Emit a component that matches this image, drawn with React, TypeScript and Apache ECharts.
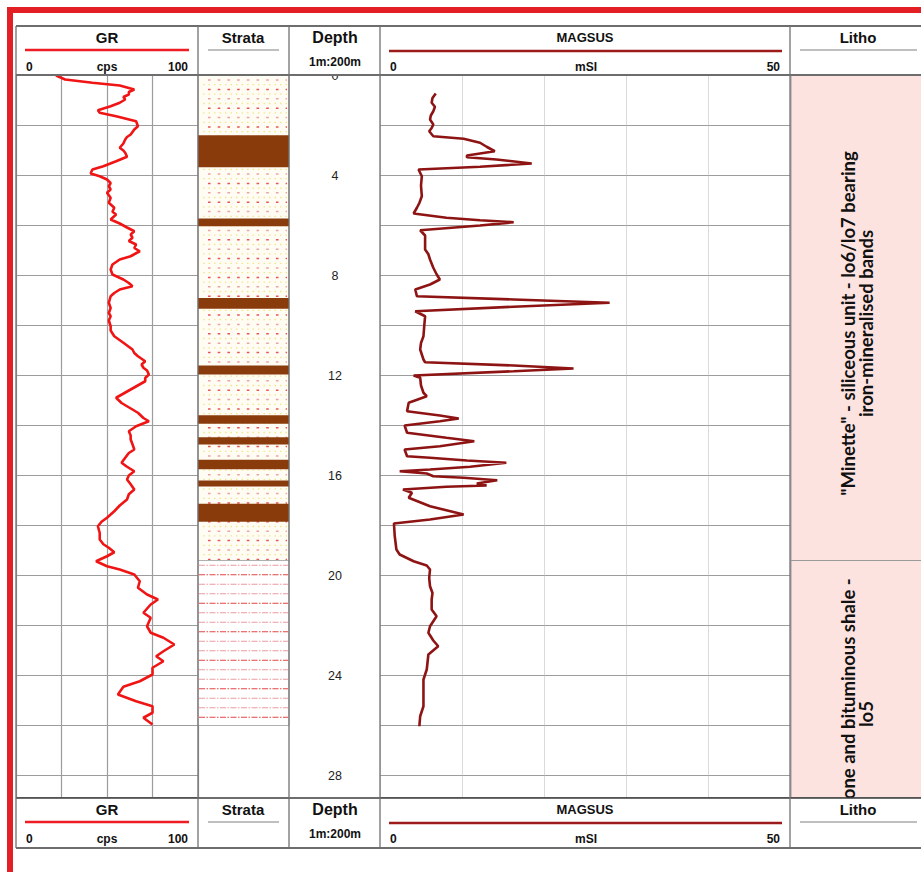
import React, { useEffect, useRef } from "react";
import * as echarts from "echarts";

// ---------- DATA ----------
const depthMax = 28.88;

// Gamma ray (cps) by depth (m)
const grDepth = [
  0.0, 0.16, 0.29, 0.4, 0.56, 0.66, 0.76, 0.86, 0.96, 1.09, 1.23, 1.39, 1.49, 1.63, 1.83, 2.03, 2.16, 2.36, 2.46, 2.56,
  2.72, 2.89, 3.0, 3.09, 3.25, 3.43, 3.63, 3.76, 3.92, 4.03, 4.16, 4.3, 4.43, 4.56, 4.69, 4.89, 5.09, 5.29, 5.45, 5.56,
  5.76, 5.92, 6.08, 6.23, 6.36, 6.49, 6.62, 6.76, 6.9, 7.03, 7.23, 7.36, 7.56, 7.76, 7.96, 8.16, 8.3, 8.43, 8.56, 8.7,
  8.83, 9.09, 9.3, 9.5, 9.63, 9.8, 10.03, 10.2, 10.43, 10.69, 10.96, 11.1, 11.23, 11.43, 11.56, 11.69, 11.8, 11.96, 12.1,
  12.23, 12.56, 12.89, 13.1, 13.23, 13.49, 13.7, 13.83, 14.03, 14.23, 14.4, 14.56, 14.75, 14.96, 15.1, 15.29, 15.49,
  15.65, 15.83, 16.0, 16.16, 16.35, 16.56, 16.75, 16.96, 17.2, 17.43, 17.69, 17.85, 18.03, 18.3, 18.56, 18.75, 18.89,
  19.07, 19.23, 19.43, 19.63, 19.76, 19.96, 20.23, 20.49, 20.76, 20.96, 21.16, 21.49, 21.69, 22.03, 22.29, 22.49, 22.76,
  23.03, 23.23, 23.43, 23.69, 23.96, 24.23, 24.45, 24.76, 25.03, 25.23, 25.49, 25.69, 25.96,
];
const grValue = [
  22, 27, 42, 57, 65, 62, 62, 59, 60, 57, 52, 45, 46, 55, 66, 67, 65, 63, 61, 60,
  59, 57, 59, 60, 61, 55, 48, 42, 41, 46, 50, 52, 51, 52, 50, 52, 51, 54, 53, 55,
  52, 57, 61, 65, 63, 64, 62, 66, 65, 68, 63, 57, 53, 52, 53, 59, 62, 64, 57, 54,
  52, 51, 52, 51, 52, 51, 52, 52, 54, 59, 64, 65, 67, 71, 69, 70, 72, 73, 71,
  71, 63, 55, 58, 61, 67, 70, 73, 66, 62, 63, 63, 64, 65, 62, 60, 58,
  61, 65, 62, 61, 63, 65, 62, 61, 57, 54, 50, 47, 45, 46, 46, 48, 51,
  54, 50, 44, 50, 57, 65, 68, 67, 72, 78, 74, 70, 74, 72, 74, 81, 87,
  81, 77, 81, 75, 75, 68, 59, 56, 66, 75, 75, 70, 75,
];

// Magnetic susceptibility (mSI) by depth (m)
const magDepth = [
  0.72, 0.9, 1.09, 1.25, 1.43, 1.6, 1.76, 1.96, 2.1, 2.23, 2.43, 2.53, 2.69, 2.85, 3.03, 3.2, 3.27, 3.36, 3.52, 3.65,
  3.76, 4.03, 4.4, 4.83, 5.1, 5.29, 5.52, 5.69, 5.79, 5.87, 6.0, 6.19, 6.4, 6.56, 6.96, 7.15, 7.36, 7.69, 7.95, 8.16,
  8.36, 8.56, 8.83, 8.96, 9.09, 9.25, 9.43, 9.63, 10.0, 10.43, 10.7, 10.96, 11.36, 11.47, 11.6, 11.72, 11.83, 12.0,
  12.09, 12.4, 12.69, 12.83, 13.09, 13.43, 13.6, 13.72, 13.83, 14.0, 14.29, 14.49, 14.63, 14.83, 14.96, 15.23, 15.29,
  15.4, 15.49, 15.65, 15.76, 15.83, 15.92, 16.03, 16.09, 16.19, 16.32, 16.4, 16.45, 16.56, 16.69, 16.89, 17.23, 17.56,
  17.76, 17.92, 18.43, 18.96, 19.16, 19.43, 19.6, 19.76, 20.1, 20.43, 20.7, 20.96, 21.36, 21.63, 22.03, 22.29, 22.6,
  22.83, 23.16, 23.76, 24.16, 24.69, 25.23, 25.63, 26.03,
];
const magValue = [
  6.8, 6.4, 6.3, 6.7, 6.5, 6.2, 6.1, 6.5, 6.3, 6.0, 6.5, 10.2, 12.2, 13.0, 14.0, 10.6, 10.6, 14.2, 18.5, 12.2,
  4.7, 5.1, 5.0, 5.1, 4.8, 4.5, 4.1, 8.1, 12.2, 16.3, 12.2, 4.9, 5.5, 5.5, 5.5, 5.9, 6.1, 6.5, 6.9, 7.3,
  6.1, 4.3, 4.5, 16.3, 28.0, 16.3, 4.3, 5.5, 5.4, 5.3, 5.0, 4.9, 5.3, 5.5, 16.3, 23.6, 16.3, 4.1,
  4.9, 5.0, 5.3, 5.7, 3.5, 3.3, 7.3, 9.6, 7.3, 3.0, 3.3, 8.1, 11.5, 7.3, 3.0, 3.3, 6.1,
  10.6, 15.4, 11.0, 6.1, 2.4, 5.7, 6.5, 10.2, 14.3, 11.8, 13.0, 8.1, 2.8, 3.9, 3.5, 6.1, 10.2,
  6.1, 1.7, 1.8, 2.0, 2.4, 4.1, 5.7, 6.1, 6.0, 6.1, 6.4, 6.3, 6.3, 6.9, 6.1, 5.9, 6.5,
  7.1, 5.9, 5.7, 5.3, 5.3, 5.3, 4.9, 4.8,
];

// Strata units (top, bottom, kind)
const strataTop = [0, 19.4];
const strataBottom = [19.4, 26.0];
const strataKind = ["sand", "shale"];

// Iron-mineralised bands (top, bottom)
const bandTop = [2.39, 5.72, 8.9, 11.6, 13.59, 14.47, 15.37, 16.2, 17.13];
const bandBottom = [3.67, 6.03, 9.33, 11.96, 13.93, 14.76, 15.75, 16.44, 17.85];

// Lithology units
const lithoTop = [0, 19.4];
const lithoBottom = [19.4, depthMax];
const lithoLabelDepth = [9.92, 25.54];
const lithoText = [
  '"Minette" - siliceous unit - lo6/lo7 bearing\niron-mineralised bands',
  "Claystone and bituminous shale -\nlo5",
];

// ---------- STYLE ----------
const FONT = '"Liberation Sans", Arial, Helvetica, sans-serif';
const GRID_TOP = 75.5;
const GRID_H = 722;
const GRID_COLOR = "#9c9c9c";

function headerBand(top: number) {
  const t = (x: number, y: number, text: string, size: number, align = "center") => ({
    type: "text",
    x,
    y: top + y,
    z: 102,
    silent: true,
    style: { text, fontSize: size, fontWeight: "bold", fontFamily: FONT, fill: "#111", align, verticalAlign: "middle" },
  });
  const l = (x1: number, y: number, x2: number, stroke: string, w: number) => ({
    type: "line",
    z: 102,
    silent: true,
    shape: { x1, y1: top + y, x2, y2: top + y },
    style: { stroke, lineWidth: w },
  });
  return [
    { type: "rect", z: 100, silent: true, shape: { x: 16, y: top, width: 920, height: 50 }, style: { fill: "#fff" } },
    t(107, 11, "GR", 15),
    l(25, 24, 189, "#ee1c25", 2.3),
    t(26, 41, "0", 12, "left"),
    t(107, 41, "cps", 12),
    t(188, 41, "100", 12, "right"),
    t(243, 11, "Strata", 15),
    l(208, 24, 279, "#aaaaaa", 1.5),
    t(335, 11, "Depth", 16),
    t(335, 36, "1m:200m", 12),
    t(585, 11, "MAGSUS", 13),
    l(389, 25, 782, "#9e1b1b", 2.5),
    t(390, 41, "0", 12, "left"),
    t(586, 41, "mSI", 12),
    t(780, 41, "50", 12, "right"),
    t(858, 11, "Litho", 15),
    l(800, 24, 917, "#aaaaaa", 1.5),
  ];
}

function frameLines() {
  const els: any[] = [];
  // blank page area below the footer
  els.push({ type: "rect", z: 99, silent: true, shape: { x: 14, y: 846, width: 920, height: 40 }, style: { fill: "#fff" } });
  [26, 75, 798, 848].forEach((y) =>
    els.push({ type: "line", z: 103, silent: true, shape: { x1: 16, y1: y, x2: 921, y2: y }, style: { stroke: "#3c3c3c", lineWidth: 1.5 } })
  );
  [16, 198, 289, 380, 790].forEach((x) =>
    els.push({ type: "line", z: 103, silent: true, shape: { x1: x, y1: 26, x2: x, y2: 848 }, style: { stroke: "#707070", lineWidth: 1.3 } })
  );
  els.push({
    type: "rect",
    z: 110,
    silent: true,
    shape: { x: 10, y: 10, width: 1000, height: 1000 },
    style: { fill: "none", stroke: "#e31e25", lineWidth: 6 },
  });
  return els;
}

function renderStrata(params: any, api: any) {
  const i = params.dataIndex;
  const a = api.coord([0, strataTop[i]]);
  const b = api.coord([1, strataBottom[i]]);
  const x = a[0], y = a[1], w = b[0] - a[0], h = b[1] - a[1];
  const kind = strataKind[i];
  const children: any[] = [
    { type: "rect", shape: { x, y, width: w, height: h }, style: { fill: kind === "sand" ? "#fffdf3" : "#ffffff", stroke: "#b0b0b0", lineWidth: 1 } },
  ];
  if (kind === "sand") {
    let k = 0;
    for (let yy = y + 4.5; yy < y + h - 1; yy += 9.4, k++) {
      children.push({
        type: "line",
        shape: { x1: x + 10, y1: yy, x2: x + w - 2, y2: yy },
        style: { stroke: k % 2 ? "#e65555" : "#eba2a2", lineWidth: 1.5, lineDash: [2.6, 7.1] },
      });
      children.push({
        type: "line",
        shape: { x1: x + 5, y1: yy + 4.7, x2: x + w - 2, y2: yy + 4.7 },
        style: { stroke: "#f3e48e", lineWidth: 1.3, lineDash: [1.5, 4] },
      });
    }
  } else {
    let k = 0;
    for (let yy = y + 4.8; yy < y + h - 1; yy += 9.5, k++) {
      children.push({
        type: "line",
        shape: { x1: x + 1, y1: yy, x2: x + w - 1, y2: yy },
        style: { stroke: k % 3 === 1 ? "#e84545" : "#ec9aa0", lineWidth: 1.1, lineDash: [6, 1.5, 1.5, 1.5] },
      });
    }
  }
  return { type: "group", children };
}

function renderBand(params: any, api: any) {
  const i = params.dataIndex;
  const a = api.coord([0, bandTop[i]]);
  const b = api.coord([1, bandBottom[i]]);
  return {
    type: "rect",
    shape: { x: a[0], y: a[1], width: b[0] - a[0], height: b[1] - a[1] },
    style: { fill: "#8a3b0b" },
  };
}

function renderLitho(params: any, api: any) {
  const i = params.dataIndex;
  const a = api.coord([0, lithoTop[i]]);
  const b = api.coord([1, lithoBottom[i]]);
  const c = api.coord([0.5, lithoLabelDepth[i]]);
  return {
    type: "group",
    children: [
      { type: "rect", shape: { x: a[0] + 1, y: a[1], width: b[0] - a[0], height: b[1] - a[1] }, style: { fill: "#fde3e0", stroke: "#9a9a9a", lineWidth: 1 } },
      {
        type: "text",
        x: c[0] + 1,
        y: c[1],
        rotation: Math.PI / 2,
        style: {
          text: lithoText[i],
          fontFamily: "Lato, 'Open Sans', sans-serif",
          fontWeight: "bold",
          fontSize: 18.5,
          lineHeight: 18,
          fill: "#111",
          align: "center",
          verticalAlign: "middle",
        },
      },
    ],
  };
}

export default function App() {
  const ref = useRef<HTMLDivElement>(null);
  useEffect(() => {
    if (!ref.current) return;
    const chart = echarts.init(ref.current, null, { renderer: "svg" });
    const hidden = { axisLine: { show: false }, axisTick: { show: false }, axisLabel: { show: false }, splitLine: { show: false } };
    const gridDef = (left: number, width: number) => ({ left, width, top: GRID_TOP, height: GRID_H, containLabel: false, show: false });
    const yBase = (gi: number) => ({ type: "value", gridIndex: gi, inverse: true, min: 0, max: depthMax });
    const option: any = {
      animation: false,
      backgroundColor: "#ffffff",
      grid: [gridDef(16, 182), gridDef(198, 91), gridDef(289, 91), gridDef(380, 410), gridDef(790, 136)],
      xAxis: [
        {
          type: "value", gridIndex: 0, min: 0, max: 100, interval: 25,
          axisLine: { show: false }, axisTick: { show: false }, axisLabel: { show: false },
          splitLine: { show: true, lineStyle: { color: GRID_COLOR, width: 1.2 } },
        },
        { type: "value", gridIndex: 1, min: 0, max: 1, ...hidden },
        { type: "value", gridIndex: 2, min: 0, max: 1, ...hidden },
        {
          type: "value", gridIndex: 3, min: 0, max: 50, interval: 10,
          axisLine: { show: false }, axisTick: { show: false }, axisLabel: { show: false },
          splitLine: { show: true, lineStyle: { color: "#b4b4b4", width: 1, type: "dotted" } },
        },
        { type: "value", gridIndex: 4, min: 0, max: 1, ...hidden },
      ],
      yAxis: [
        {
          ...yBase(0), interval: 2,
          axisLine: { show: false }, axisTick: { show: false }, axisLabel: { show: false },
          splitLine: { show: true, lineStyle: { color: GRID_COLOR, width: 1.2 } },
        },
        { ...yBase(1), ...hidden },
        {
          ...yBase(2), interval: 4,
          axisLine: { show: false }, axisTick: { show: false }, splitLine: { show: false },
          axisLabel: {
            show: true, inside: true, align: "center", margin: 46,
            color: "#222", fontSize: 12.5, fontFamily: FONT,
            formatter: (v: number) => (Math.abs(v % 4) < 1e-6 ? String(v) : ""),
          },
        },
        {
          ...yBase(3), interval: 2,
          axisLine: { show: false }, axisTick: { show: false }, axisLabel: { show: false },
          splitLine: { show: true, lineStyle: { color: GRID_COLOR, width: 1.2 } },
        },
        { ...yBase(4), ...hidden },
      ],
      series: [
        {
          type: "line", name: "GR", xAxisIndex: 0, yAxisIndex: 0, clip: true,
          data: grDepth.map((d, i) => [grValue[i], d]),
          showSymbol: false, symbol: "none", z: 5,
          lineStyle: { color: "#f01414", width: 2.6 },
        },
        {
          type: "custom", name: "Strata", xAxisIndex: 1, yAxisIndex: 1,
          data: strataTop.map((t, i) => [t, strataBottom[i]]),
          renderItem: renderStrata, z: 2,
        },
        {
          type: "custom", name: "Bands", xAxisIndex: 1, yAxisIndex: 1,
          data: bandTop.map((t, i) => [t, bandBottom[i]]),
          renderItem: renderBand, z: 3,
        },
        {
          type: "line", name: "MAGSUS", xAxisIndex: 3, yAxisIndex: 3, clip: true,
          data: magDepth.map((d, i) => [magValue[i], d]),
          showSymbol: false, symbol: "none", z: 5,
          lineStyle: { color: "#8e1414", width: 2.6 },
        },
        {
          type: "custom", name: "Litho", xAxisIndex: 4, yAxisIndex: 4,
          data: lithoTop.map((t, i) => [t, lithoBottom[i]]),
          renderItem: renderLitho, z: 2,
        },
      ],
      graphic: { elements: [...headerBand(26), ...headerBand(798), ...frameLines()] },
    };
    chart.setOption(option);
    return () => chart.dispose();
  }, []);
  return (
    <div
      ref={ref}
      style={{ position: "fixed", left: 0, top: 0, width: 921, height: 872, background: "#fff" }}
    />
  );
}
